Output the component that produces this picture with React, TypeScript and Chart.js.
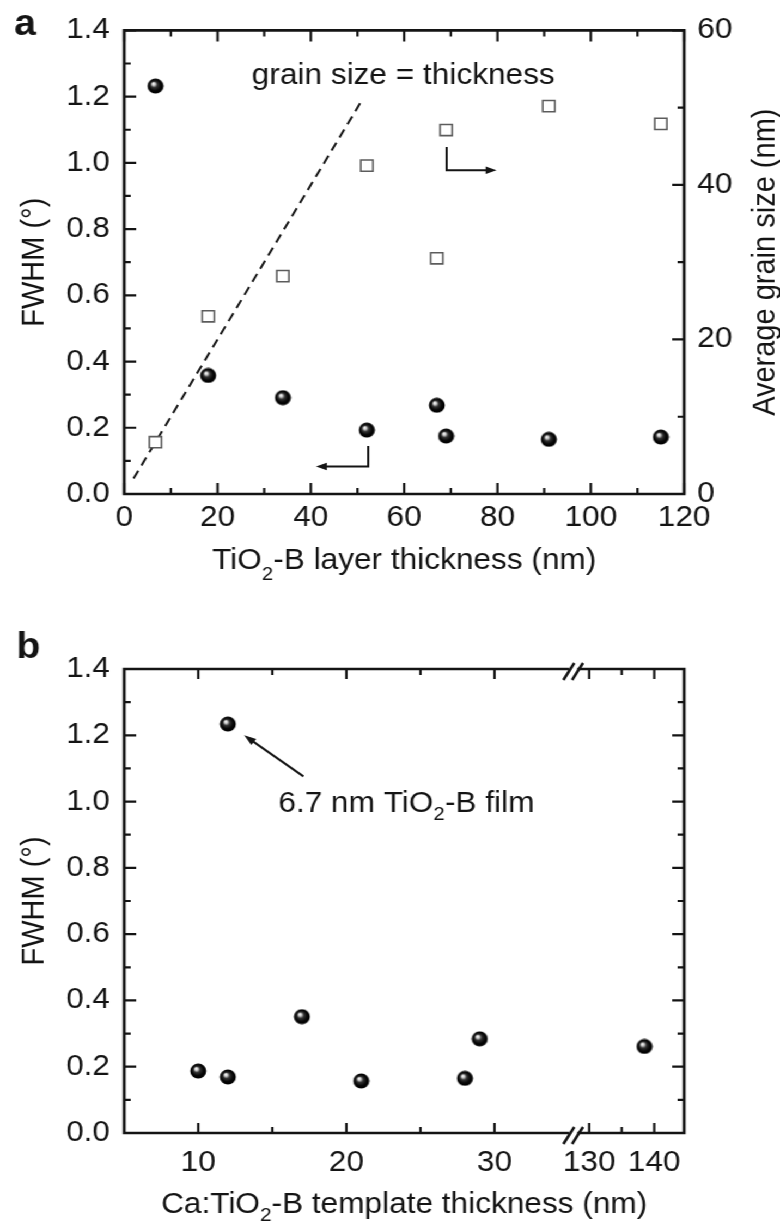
import React, { useEffect, useRef } from 'react';
import { Chart, registerables } from 'chart.js';

Chart.register(...registerables);

const FONT = '"Liberation Sans", Arial, Helvetica, sans-serif';
const INK = '#141414';
const FS = 29;
// the original figure is slightly wider than tall in its glyphs; draw at W and stretch
const PAGE_W = 780;
const W = 716;
const K = PAGE_W / W;

Chart.defaults.font.family = FONT;
Chart.defaults.color = INK;

// ---------- Panel a ----------
const layerThickness = [6.7, 18, 34, 52, 67, 69, 91, 115];
const fwhmA = [1.232, 0.358, 0.291, 0.193, 0.268, 0.175, 0.165, 0.172];
const grainSize = [6.7, 23.0, 28.2, 42.5, 30.5, 47.1, 50.2, 47.9];
const equalityX = [2, 51];
const equalityY = [2, 51];

const thicknessRangeA = [0, 120];
const thicknessStepA = 10;
const thicknessLabelStepA = 20;
const fwhmRange = [0, 1.4];
const fwhmStep = 0.1;
const grainRange = [0, 60];
const grainStep = 10;
const grainLabelStep = 20;

// annotation anchors (data units)
const noteTextA = { x: 59.8, y2: 53 };
const leftArrowA = { x: 52.3, yTop: 0.145, yBend: 0.083, xEnd: 41.1 };
const rightArrowA = { x: 69.1, yTop: 44.9, yBend: 41.9, xEnd: 79.8 };

// ---------- Panel b ----------
const templateThickness = [10, 12, 12, 17, 21, 28, 29, 138.5];
const fwhmB = [0.187, 0.169, 1.234, 0.351, 0.157, 0.165, 0.284, 0.261];
const templateTicks = [10, 15, 20, 25, 30, 130, 135, 140];
const templateLabelStep = 10;

// broken axis: left segment shown 1:1, right segment compressed
const BREAK_AT = 35.31;
const SEG2_REF = 130;
const SEG2_AXIS = 36.39;
const SEG2_SCALE = 0.439;
const axisRangeB = [5, 42.8];
const toAxis = (x: number) => (x <= BREAK_AT ? x : SEG2_AXIS + (x - SEG2_REF) * SEG2_SCALE);

const noteArrowB = { x0: 17.1, y0: 1.076, x1: 13.1, y1: 1.2 };
const noteTextB = { x: 24.05, y: 0.97 };

// ---------- helpers ----------
let sphereCache: HTMLCanvasElement | null = null;
function sphere(): HTMLCanvasElement {
  if (sphereCache) return sphereCache;
  const d = 16;
  const c = document.createElement('canvas');
  c.width = d;
  c.height = d;
  const g = c.getContext('2d')!;
  const cx = d / 2, cy = d / 2, r = 7.4;
  const grad = g.createRadialGradient(cx - 2.2, cy - 2.5, 0.2, cx, cy, r);
  grad.addColorStop(0, '#ffffff');
  grad.addColorStop(0.17, '#d0d0d0');
  grad.addColorStop(0.4, '#333333');
  grad.addColorStop(0.72, '#060606');
  grad.addColorStop(1, '#000000');
  g.fillStyle = grad;
  g.beginPath();
  g.arc(cx, cy, r, 0, Math.PI * 2);
  g.fill();
  sphereCache = c;
  return c;
}

function drawBox(ctx: CanvasRenderingContext2D, a: any, breakPx?: number) {
  ctx.save();
  ctx.strokeStyle = INK;
  ctx.lineWidth = 2.7;
  ctx.lineCap = 'square';
  ctx.beginPath();
  ctx.moveTo(a.left, a.top); ctx.lineTo(a.left, a.bottom);
  ctx.moveTo(a.right, a.top); ctx.lineTo(a.right, a.bottom);
  for (const y of [a.top, a.bottom]) {
    if (breakPx == null) {
      ctx.moveTo(a.left, y); ctx.lineTo(a.right, y);
    } else {
      ctx.moveTo(a.left, y); ctx.lineTo(breakPx - 5, y);
      ctx.moveTo(breakPx + 5, y); ctx.lineTo(a.right, y);
    }
  }
  ctx.stroke();
  if (breakPx != null) {
    ctx.lineCap = 'butt';
    ctx.lineWidth = 2.5;
    ctx.beginPath();
    for (const y of [a.top, a.bottom]) {
      for (const c of [breakPx - 4, breakPx + 4]) {
        ctx.moveTo(c - 5, y + 11);
        ctx.lineTo(c + 5, y - 6);
      }
    }
    ctx.stroke();
  }
  ctx.restore();
}

const isMajor = (t: any) => String(t.label ?? '') !== '';

function drawXTicks(ctx: CanvasRenderingContext2D, scale: any, a: any, major = 11, minor = 6) {
  ctx.save();
  ctx.strokeStyle = INK;
  ctx.lineWidth = 2.2;
  ctx.beginPath();
  for (const t of scale.ticks) {
    const px = scale.getPixelForValue(t.value);
    const len = isMajor(t) ? major : minor;
    ctx.moveTo(px, a.bottom); ctx.lineTo(px, a.bottom - len);
    ctx.moveTo(px, a.top); ctx.lineTo(px, a.top + len);
  }
  ctx.stroke();
  ctx.restore();
}

function drawYTicks(ctx: CanvasRenderingContext2D, scale: any, x: number, dir: number, major = 11, minor = 6) {
  ctx.save();
  ctx.strokeStyle = INK;
  ctx.lineWidth = 2.2;
  ctx.beginPath();
  for (const t of scale.ticks) {
    const py = scale.getPixelForValue(t.value);
    const len = isMajor(t) ? major : minor;
    ctx.moveTo(x, py); ctx.lineTo(x + dir * len, py);
  }
  ctx.stroke();
  ctx.restore();
}

function drawArrow(ctx: CanvasRenderingContext2D, pts: number[][], head = 10, halfW = 3.8) {
  const n = pts.length;
  const [ex, ey] = pts[n - 1];
  const [qx, qy] = pts[n - 2];
  const ang = Math.atan2(ey - qy, ex - qx);
  const c = Math.cos(ang), s = Math.sin(ang);
  ctx.save();
  ctx.strokeStyle = INK;
  ctx.fillStyle = INK;
  ctx.lineWidth = 2;
  ctx.beginPath();
  ctx.moveTo(pts[0][0], pts[0][1]);
  for (let i = 1; i < n - 1; i++) ctx.lineTo(pts[i][0], pts[i][1]);
  ctx.lineTo(ex - c * head * 0.8, ey - s * head * 0.8);
  ctx.stroke();
  ctx.beginPath();
  ctx.moveTo(ex, ey);
  ctx.lineTo(ex - c * head + s * halfW, ey - s * head - c * halfW);
  ctx.lineTo(ex - c * head - s * halfW, ey - s * head + c * halfW);
  ctx.closePath();
  ctx.fill();
  ctx.restore();
}

type Seg = { t: string; sub?: boolean };
function drawRich(ctx: CanvasRenderingContext2D, segs: Seg[], cx: number, baseline: number, size: number, subSize: number, subDrop: number) {
  ctx.save();
  ctx.fillStyle = INK;
  ctx.textAlign = 'left';
  ctx.textBaseline = 'alphabetic';
  const fonts = segs.map((s) => `${s.sub ? subSize : size}px ${FONT}`);
  const widths = segs.map((s, i) => { ctx.font = fonts[i]; return ctx.measureText(s.t).width; });
  const total = widths.reduce((p, w) => p + w, 0);
  let x = cx - total / 2;
  segs.forEach((s, i) => {
    ctx.font = fonts[i];
    ctx.fillText(s.t, x, s.sub ? baseline + subDrop : baseline);
    x += widths[i];
  });
  ctx.restore();
}

function tickFont() {
  return { family: FONT, size: FS };
}

const fwhmLabel = (v: any) => {
  const n = Math.round(Number(v) * 10);
  return n % 2 === 0 ? (n / 10).toFixed(1) : '';
};

// ---------- configs ----------
function configA(): any {
  const plugin = {
    id: 'panelA',
    afterDatasetsDraw(chart: any) {
      const { ctx, chartArea: a, scales } = chart;
      const x = scales.x, y = scales.y, y2 = scales.y2;
      drawBox(ctx, a);
      drawXTicks(ctx, x, a);
      drawYTicks(ctx, y, a.left, 1);
      drawYTicks(ctx, y2, a.right, -1);

      ctx.save();
      ctx.fillStyle = INK;
      ctx.font = `${FS}px ${FONT}`;
      ctx.textAlign = 'center';
      ctx.textBaseline = 'alphabetic';
      ctx.fillText('grain size = thickness', x.getPixelForValue(noteTextA.x), y2.getPixelForValue(noteTextA.y2));
      ctx.restore();

      drawArrow(ctx, [
        [x.getPixelForValue(leftArrowA.x), y.getPixelForValue(leftArrowA.yTop)],
        [x.getPixelForValue(leftArrowA.x), y.getPixelForValue(leftArrowA.yBend)],
        [x.getPixelForValue(leftArrowA.xEnd), y.getPixelForValue(leftArrowA.yBend)],
      ]);
      drawArrow(ctx, [
        [x.getPixelForValue(rightArrowA.x), y2.getPixelForValue(rightArrowA.yTop)],
        [x.getPixelForValue(rightArrowA.x), y2.getPixelForValue(rightArrowA.yBend)],
        [x.getPixelForValue(rightArrowA.xEnd), y2.getPixelForValue(rightArrowA.yBend)],
      ]);

      drawRich(ctx, [{ t: 'TiO' }, { t: '2', sub: true }, { t: '-B layer thickness (nm)' }],
        (a.left + a.right) / 2, a.bottom + 75, FS, 19, 11);

      ctx.save();
      ctx.fillStyle = INK;
      ctx.font = `${FS}px ${FONT}`;
      ctx.translate(a.right + 75, (a.top + a.bottom) / 2);
      ctx.rotate(-Math.PI / 2);
      ctx.textAlign = 'center';
      ctx.textBaseline = 'middle';
      ctx.fillText('Average grain size (nm)', 0, 0);
      ctx.restore();

      ctx.save();
      ctx.fillStyle = INK;
      ctx.font = `bold 36px ${FONT}`;
      ctx.textAlign = 'left';
      ctx.textBaseline = 'alphabetic';
      ctx.fillText('a', 13, 35);
      ctx.restore();
    },
  };

  return {
    type: 'scatter',
    data: {
      datasets: [
        {
          label: 'Average grain size',
          data: layerThickness.map((t, i) => ({ x: t, y: grainSize[i] })),
          yAxisID: 'y2',
          pointStyle: 'rect',
          pointRadius: 7.9,
          pointBorderWidth: 1.6,
          pointBorderColor: '#5c5c5c',
          pointBackgroundColor: '#ffffff',
          showLine: false,
        },
        {
          label: 'FWHM',
          data: layerThickness.map((t, i) => ({ x: t, y: fwhmA[i] })),
          yAxisID: 'y',
          pointStyle: sphere(),
          pointRadius: 8,
          showLine: false,
        },
        {
          label: 'grain size = thickness',
          data: equalityX.map((v, i) => ({ x: v, y: equalityY[i] })),
          yAxisID: 'y2',
          showLine: true,
          borderColor: INK,
          borderWidth: 2,
          borderDash: [9, 6],
          pointRadius: 0,
          fill: false,
        },
      ],
    },
    options: {
      animation: false,
      responsive: false,
      events: [],
      layout: { padding: { top: 24, left: 0, right: 0, bottom: 0 } },
      plugins: { legend: { display: false }, tooltip: { enabled: false } },
      scales: {
        x: {
          type: 'linear',
          min: thicknessRangeA[0],
          max: thicknessRangeA[1],
          grid: { display: false, drawTicks: false },
          border: { display: false },
          afterFit: (s: any) => { s.height = 106; },
          ticks: {
            stepSize: thicknessStepA,
            autoSkip: false,
            maxRotation: 0,
            minRotation: 0,
            padding: 7,
            color: INK,
            font: tickFont(),
            callback: (v: any) => (Number(v) % thicknessLabelStepA === 0 ? String(v) : ''),
          },
        },
        y: {
          type: 'linear',
          position: 'left',
          min: fwhmRange[0],
          max: fwhmRange[1],
          grid: { display: false, drawTicks: false },
          border: { display: false },
          afterFit: (s: any) => { s.width = 114; },
          title: { display: true, text: 'FWHM (°)', color: INK, font: { family: FONT, size: FS }, padding: { top: 15, bottom: 0 } },
          ticks: {
            stepSize: fwhmStep,
            autoSkip: false,
            padding: 13,
            color: INK,
            font: tickFont(),
            callback: fwhmLabel,
          },
        },
        y2: {
          type: 'linear',
          position: 'right',
          min: grainRange[0],
          max: grainRange[1],
          grid: { display: false, drawTicks: false },
          border: { display: false },
          afterFit: (s: any) => { s.width = W - 628; },
          ticks: {
            stepSize: grainStep,
            autoSkip: false,
            padding: 12,
            color: INK,
            font: tickFont(),
            callback: (v: any) => (Number(v) % grainLabelStep === 0 ? String(v) : ''),
          },
        },
      },
    },
    plugins: [plugin],
  };
}

function configB(): any {
  const plugin = {
    id: 'panelB',
    afterDatasetsDraw(chart: any) {
      const { ctx, chartArea: a, scales } = chart;
      const x = scales.x, y = scales.y;
      const breakPx = x.getPixelForValue(BREAK_AT);
      drawBox(ctx, a, breakPx);
      drawXTicks(ctx, x, a, 10, 6);
      drawYTicks(ctx, y, a.left, 1);
      drawYTicks(ctx, y, a.right, -1);

      drawArrow(ctx, [
        [x.getPixelForValue(toAxis(noteArrowB.x0)), y.getPixelForValue(noteArrowB.y0)],
        [x.getPixelForValue(toAxis(noteArrowB.x1)), y.getPixelForValue(noteArrowB.y1)],
      ], 11, 3.8);

      drawRich(ctx, [{ t: '6.7 nm TiO' }, { t: '2', sub: true }, { t: '-B film' }],
        x.getPixelForValue(toAxis(noteTextB.x)), y.getPixelForValue(noteTextB.y), FS, 19, 8);

      drawRich(ctx, [{ t: 'Ca:TiO' }, { t: '2', sub: true }, { t: '-B template thickness (nm)' }],
        (a.left + a.right) / 2, a.bottom + 80, FS, 19, 8);

      ctx.save();
      ctx.fillStyle = INK;
      ctx.font = `bold 36px ${FONT}`;
      ctx.textAlign = 'left';
      ctx.textBaseline = 'alphabetic';
      ctx.fillText('b', 15, 58);
      ctx.restore();
    },
  };

  return {
    type: 'scatter',
    data: {
      datasets: [
        {
          label: 'FWHM',
          data: templateThickness.map((t, i) => ({ x: toAxis(t), y: fwhmB[i] })),
          pointStyle: sphere(),
          pointRadius: 8,
          showLine: false,
        },
      ],
    },
    options: {
      animation: false,
      responsive: false,
      events: [],
      layout: { padding: { top: 69, left: 0, right: W - 628, bottom: 0 } },
      plugins: { legend: { display: false }, tooltip: { enabled: false } },
      scales: {
        x: {
          type: 'linear',
          min: axisRangeB[0],
          max: axisRangeB[1],
          grid: { display: false, drawTicks: false },
          border: { display: false },
          afterFit: (s: any) => { s.height = 93; },
          afterBuildTicks: (s: any) => { s.ticks = templateTicks.map((v) => ({ value: toAxis(v) })); },
          ticks: {
            autoSkip: false,
            maxRotation: 0,
            minRotation: 0,
            padding: 13,
            color: INK,
            font: tickFont(),
            callback: (_v: any, i: number) => {
              const t = templateTicks[i];
              return t % templateLabelStep === 0 ? String(t) : '';
            },
          },
        },
        y: {
          type: 'linear',
          position: 'left',
          min: fwhmRange[0],
          max: fwhmRange[1],
          grid: { display: false, drawTicks: false },
          border: { display: false },
          afterFit: (s: any) => { s.width = 114; },
          title: { display: true, text: 'FWHM (°)', color: INK, font: { family: FONT, size: FS }, padding: { top: 15, bottom: 0 } },
          ticks: {
            stepSize: fwhmStep,
            autoSkip: false,
            padding: 13,
            color: INK,
            font: tickFont(),
            callback: fwhmLabel,
          },
        },
      },
    },
    plugins: [plugin],
  };
}

export default function App() {
  const refA = useRef<HTMLCanvasElement>(null);
  const refB = useRef<HTMLCanvasElement>(null);
  useEffect(() => {
    const cA = new Chart(refA.current!, configA());
    const cB = new Chart(refB.current!, configB());
    return () => {
      cA.destroy();
      cB.destroy();
    };
  }, []);
  return (
    <div style={{ position: 'absolute', left: 0, top: 0, width: PAGE_W, height: 1226, background: '#ffffff', overflow: 'hidden' }}>
      <div style={{ width: W, height: 1226, transform: `scaleX(${K})`, transformOrigin: '0 0' }}>
        <canvas ref={refA} width={W} height={600} style={{ display: 'block', width: W, height: 600 }} />
        <canvas ref={refB} width={W} height={626} style={{ display: 'block', width: W, height: 626 }} />
      </div>
    </div>
  );
}
